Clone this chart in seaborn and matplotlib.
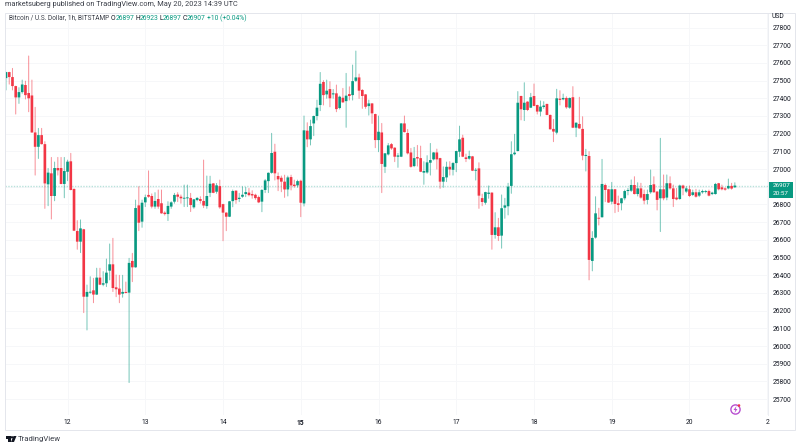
import numpy as np
import matplotlib
matplotlib.use("Agg")
import matplotlib.pyplot as plt
from matplotlib.patches import Rectangle, Circle, Polygon
from matplotlib.transforms import Affine2D
import seaborn as sns

opens = [27514,27548,27520,27469,27405,27435,27475,27430,27416,27207,27126,27192,27141,26914,26976,26848,27006,27006,26916,26985,
 27044,26888,26650,26590,26660,26279,26302,26315,26291,26387,26347,26355,26426,26462,26332,26325,26296,26306,26302,26481,
 26445,26795,26703,26812,26854,26848,26788,26831,26807,26754,26746,26788,26816,26856,26844,26833,26835,26837,26784,26825,
 26831,26820,26791,26866,26919,26872,26904,26802,26754,26731,26819,26878,26831,26844,26859,26867,26859,26855,26842,26816,
 26882,26932,26979,27098,26961,26951,26929,26885,26955,26912,26908,26934,26806,27217,27168,27258,27300,27362,27492,27422,
 27452,27422,27428,27345,27403,27384,27424,27418,27499,27518,27447,27422,27356,27371,27311,27164,27207,27013,27083,27141,
 27121,27070,27070,27258,27204,27094,27017,27068,27062,26980,26981,27036,27055,27094,27062,26929,26953,27013,26996,27034,
 27098,27177,27066,27059,27072,26991,27004,26836,26810,26860,26867,26628,26671,26624,26782,26790,26905,27084,27102,27413,
 27334,27381,27347,27413,27362,27325,27351,27368,27306,27227,27206,27398,27394,27402,27347,27406,27234,27255,27227,27074,
 27074,26481,26613,26724,26728,26910,26886,26816,26886,26807,26807,26835,26876,26878,26910,26859,26891,26859,26826,26869,
 26914,26873,26835,26886,26839,26920,26891,26839,26831,26907,26873,26886,26854,26869,26850,26869,26871,26876,26859,26859,
 26920,26897,26891,26891,26905,26897]
highs = [27548,27548,27569,27469,27460,27503,27497,27639,27503,27349,27230,27230,27155,27004,27066,27040,27066,27066,27066,27051,
 27089,26888,26709,26713,26660,26345,26392,26383,26440,26440,26421,26492,26577,26609,26402,26400,26400,26362,26496,26524,
 26825,26901,26825,26854,26990,26860,26867,26882,26882,26760,26816,26816,26863,26867,26854,26910,26910,26863,26829,26840,
 26844,27051,26961,26960,26919,26919,26938,26802,26754,26818,26882,26878,26863,26900,26897,26891,26878,26859,26848,26885,
 26942,26979,27202,27141,26979,26961,26966,26961,26966,26938,26938,26938,27300,27262,27277,27300,27390,27546,27500,27503,
 27494,27450,27475,27413,27456,27541,27465,27588,27667,27537,27450,27422,27390,27371,27311,27300,27258,27089,27145,27145,
 27121,27089,27258,27300,27224,27117,27123,27134,27130,27042,27076,27145,27094,27113,27062,27013,27040,27042,27038,27102,
 27243,27192,27085,27102,27072,27004,27036,26859,26870,26905,26867,26754,26722,26854,26835,26920,27155,27197,27438,27413,
 27488,27381,27428,27481,27362,27385,27381,27368,27306,27281,27451,27443,27424,27409,27402,27466,27262,27406,27296,27112,
 27099,26647,26844,26779,27055,26916,26886,26925,26886,26848,26835,26882,26891,26939,26957,26923,26920,26882,26882,26995,
 26957,26873,27174,26967,26967,26957,26910,26891,26910,26910,26901,26905,26882,26886,26882,26882,26880,26882,26870,26920,
 26920,26910,26895,26944,26920,26923]
lows = [27447,27480,27447,27311,27371,27428,27396,27324,27207,26966,27060,27141,26778,26793,26718,26821,26966,26916,26838,26934,
 26882,26652,26547,26528,26189,26091,26298,26245,26291,26347,26340,26336,26374,26308,26279,26245,26276,26300,25794,26364,
 26445,26652,26671,26788,26840,26780,26778,26778,26750,26740,26709,26778,26807,26816,26807,26788,26788,26760,26778,26820,
 26807,26782,26778,26844,26866,26863,26778,26595,26652,26731,26787,26806,26816,26840,26844,26848,26835,26829,26810,26759,
 26867,26867,26976,26938,26878,26872,26840,26848,26882,26897,26897,26731,26791,27126,27136,27189,27277,27330,27362,27400,
 27352,27400,27324,27339,27377,27236,27390,27390,27494,27399,27343,27343,27305,27258,27121,27098,26867,26980,27079,27111,
 27042,27010,27070,27209,27085,27010,27013,27017,26985,26914,26976,26966,27051,27000,26891,26897,26929,26966,26966,26985,
 27070,27070,27042,27055,26991,26938,26778,26793,26801,26835,26547,26609,26596,26553,26722,26741,26863,27080,27102,27278,
 27274,27330,27347,27357,27311,27300,27343,27306,27225,27155,27198,27362,27391,27343,27343,27234,27183,27230,27052,26989,
 26374,26425,26609,26684,26728,26816,26811,26803,26754,26760,26769,26826,26854,26873,26859,26848,26835,26803,26803,26863,
 26869,26769,26647,26826,26826,26886,26788,26826,26829,26854,26867,26844,26850,26841,26844,26863,26865,26848,26855,26858,
 26882,26882,26880,26888,26886,26897]
closes = [27548,27520,27469,27405,27435,27478,27418,27400,27207,27126,27192,27141,26919,26980,26848,27006,26993,26916,26989,27042,
 26882,26652,26590,26665,26279,26306,26306,26291,26387,26347,26355,26415,26462,26328,26321,26291,26306,26300,26470,26445,
 26780,26697,26810,26841,26844,26788,26820,26788,26750,26746,26792,26812,26854,26844,26835,26837,26837,26797,26829,26837,
 26820,26794,26848,26917,26866,26908,26784,26754,26731,26818,26876,26825,26838,26855,26870,26853,26851,26836,26812,26882,
 26936,26979,27091,26976,26942,26929,26885,26953,26908,26904,26932,26810,27219,27168,27243,27300,27347,27482,27418,27443,
 27400,27428,27339,27409,27377,27415,27413,27497,27518,27443,27413,27352,27371,27315,27164,27211,27029,27089,27134,27117,
 27070,27077,27258,27209,27089,27013,27062,27060,26985,26989,27038,27051,27094,27055,26929,26955,27013,26998,27034,27102,
 27168,27070,27057,27074,26991,26996,26850,26814,26870,26867,26628,26671,26622,26779,26795,26901,27084,27093,27375,27338,
 27375,27334,27406,27357,27325,27353,27359,27306,27225,27212,27400,27391,27402,27349,27402,27234,27262,27230,27076,27080,
 26487,26611,26750,26720,26916,26882,26811,26886,26803,26797,26835,26876,26882,26910,26859,26891,26839,26822,26859,26910,
 26869,26826,26886,26835,26920,26891,26831,26829,26907,26891,26891,26848,26869,26844,26869,26876,26876,26850,26867,26916,
 26886,26886,26884,26905,26890,26907]

y_ticks = [27800,27700,27600,27500,27400,27300,27200,27100,27000,26900,26800,26700,26600,26500,26400,26300,26200,26100,26000,25900,25800,25700]
hidden_tick = 26900
day_labels = ["12","13","14","15","16","17","18","19","20","2"]
day_positions = [19,43,67,91,115,139,163,187,211,235]
last_price = 26907
GREEN, RED, INK = "#089981", "#F23645", "#131722"

sns.set_theme(style="white")
plt.rcParams["font.family"] = ["Roboto", "DejaVu Sans"]
W, H = 800, 445
fig = plt.figure(figsize=(8, 4.45), dpi=100, facecolor="white")
L, R, T, B = 5, 768, 13, 415
ax = fig.add_axes([L/W, 1-B/H, (R-L)/W, (B-T)/H])
px = Affine2D().scale(1/W, -1/H).translate(0, 1) + fig.transFigure

o, h, l, c = map(np.array, (opens, highs, lows, closes))
idx = np.arange(len(o))
up = c >= o
for mask, col in ((up, GREEN), (~up, RED)):
    ii = idx[mask]
    xs = np.repeat(ii, 2)
    ys = np.column_stack((l[mask], h[mask])).ravel()
    sns.lineplot(x=xs, y=ys, units=xs, estimator=None, color=col, lw=0.72,
                 alpha=0.55, sort=False, ax=ax, legend=False, zorder=3)
    bottom = np.minimum(o, c)[mask]
    height = np.maximum(np.abs(c - o)[mask], 5)
    sns.barplot(x=ii, y=height, bottom=bottom, native_scale=True, color=col,
                saturation=1, width=0.82, errorbar=None, linewidth=0, ax=ax, zorder=4)
for artist in list(ax.patches) + list(ax.lines):
    artist.set_snap(False)

ax.axhline(last_price, color=GREEN, lw=1.0, ls=(0, (1, 1)), alpha=0.28, zorder=2)
ax.set_xlim((L-6)/3.24, (R-6)/3.24 + 0.05)
ax.set_ylim(27800-(B-27.5)*5.65, 27800+(27.5-T)*5.65)
ax.set_xlabel(""); ax.set_ylabel("")
ax.set_xticks(day_positions, day_labels)
ax.set_yticks(y_ticks, ["" if v == hidden_tick else str(v) for v in y_ticks])
ax.yaxis.tick_right()
ax.tick_params(axis="both", length=0, labelsize=4.9, colors=INK, pad=3.5)
ax.tick_params(axis="x", pad=3)
ax.get_xticklabels()[3].set_fontweight("bold")
ax.grid(True, color="#f6f7f9", lw=0.7)
ax.set_axisbelow(True)
for name, s in ax.spines.items():
    s.set_visible(name == "right")
    s.set_color("#eceef2"); s.set_linewidth(0.7)

fig.add_artist(Rectangle((5, 13), 790, 417, transform=px, fill=False, ec="#e4e6ec", lw=0.7))
fig.add_artist(Rectangle((769, 181.5), 24, 16, transform=px, fc=GREEN, ec="none"))

def t(x, y, s, color=INK, size=4.9, **kw):
    fig.text(x/W, 1-y/H, s, color=color, fontsize=size, va="center", **kw)

t(772.5, 185.3, "26907", "white", 4.6)
t(772.5, 193.2, "20:57", "white", 4.6)
t(772, 17, "USD")
t(5, 4.5, "marketsuberg published on TradingView.com, May 20, 2023 14:39 UTC", "#3a3e48", 5.3)
t(9, 18, "Bitcoin / U.S. Dollar, 1h, BITSTAMP", "#3a3e48", 4.7)
for x, s, col in [(111, "O", INK), (115.5, "26897", GREEN), (135, "H", INK), (139.5, "26923", GREEN),
                  (159, "L", INK), (162.5, "26897", GREEN), (183, "C", INK), (187, "26907", GREEN),
                  (207, "+10 (+0.04%)", GREEN)]:
    t(x, 18, s, col, 4.9)

# TradingView mark and name
fig.add_artist(Polygon([(5.5, 436), (10.5, 436), (10.5, 442), (8, 442), (8, 438.5), (5.5, 438.5)], transform=px, fc=INK, ec="none"))
fig.add_artist(Circle((12, 437.3), 1.2, transform=px, fc=INK, ec="none"))
fig.add_artist(Polygon([(13.5, 436), (16.5, 436), (14, 442), (11, 442)], transform=px, fc=INK, ec="none"))
t(18, 439, "TradingView", "#3a3e48", 5.6)

# lightning badge
fig.add_artist(Circle((735.5, 409.5), 4.6, transform=px, fill=False, ec="#b84fd0", lw=1.0))
fig.add_artist(Polygon([(736.5, 406), (733.5, 410), (735.3, 410), (734.5, 413), (737.5, 409), (735.7, 409)], transform=px, fc="#b84fd0", ec="none"))
fig.add_artist(Circle((739, 405.5), 1.3, transform=px, fc=RED, ec="none"))

fig.savefig("out.png", dpi=100, facecolor="white")
